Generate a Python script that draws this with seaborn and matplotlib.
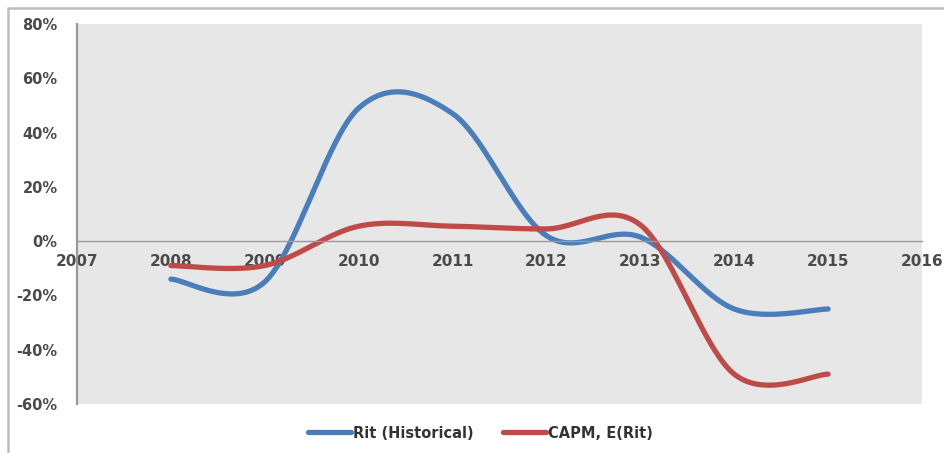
import numpy as np
import pandas as pd
import matplotlib
matplotlib.use("Agg")
import matplotlib.pyplot as plt
import seaborn as sns
from matplotlib.lines import Line2D
from matplotlib.ticker import PercentFormatter, FixedLocator

# Annual returns (%)
years = [2008, 2009, 2010, 2011, 2012, 2013, 2014, 2015]
rit_historical = [-14, -15, 49, 47, 2, 1.5, -25, -25]
capm_expected = [-9, -9, 5.5, 5.5, 4.5, 6, -49, -49]
series_names = ["Rit (Historical)", "CAPM, E(Rit)"]
x_ticks = list(range(2007, 2017))
y_ticks = [-60, -40, -20, 0, 20, 40, 60, 80]


def smooth_curve(xs, ys, n=40):
    """Cubic Bezier smoothing through every point (spreadsheet-style smoothed line)."""
    pts = np.column_stack([xs, ys]).astype(float)
    m = len(pts)
    out = []
    for i in range(m - 1):
        p0, p3 = pts[i], pts[i + 1]
        prev = pts[i - 1] if i > 0 else pts[i]
        nxt = pts[i + 2] if i + 2 < m else pts[i + 1]
        c1 = p0 + (p3 - prev) / 6.0
        c2 = p3 - (nxt - p0) / 6.0
        t = np.linspace(0, 1, n, endpoint=(i == m - 2))[:, None]
        seg = (1 - t) ** 3 * p0 + 3 * (1 - t) ** 2 * t * c1 + 3 * (1 - t) * t ** 2 * c2 + t ** 3 * p3
        out.append(seg)
    return np.vstack(out)


frames = []
for name, vals in zip(series_names, [rit_historical, capm_expected]):
    c = smooth_curve(years, vals)
    frames.append(pd.DataFrame({"year": c[:, 0], "ret": c[:, 1], "series": name}))
df = pd.concat(frames, ignore_index=True)

sns.set_theme(style="white")
plt.rcParams["font.family"] = ["DejaVu Sans"]
plt.rcParams["axes.unicode_minus"] = False

fig = plt.figure(figsize=(9.45, 4.53), dpi=100)
fig.patch.set_facecolor("white")
W, H = 945, 453
ax = fig.add_axes([77 / W, 1 - 404 / H, (922 - 77) / W, (404 - 24) / H])
ax.set_facecolor("#e7e7e7")

palette = {"Rit (Historical)": "#4a7ebb", "CAPM, E(Rit)": "#be4b48"}
sns.lineplot(data=df, x="year", y="ret", hue="series", palette=palette,
             sort=False, estimator=None, linewidth=3.8, ax=ax, legend=False)

ax.set_xlim(2007, 2016)
ax.set_ylim(-60, 80)
ax.xaxis.set_major_locator(FixedLocator(x_ticks))
ax.yaxis.set_major_locator(FixedLocator(y_ticks))
ax.yaxis.set_major_formatter(PercentFormatter(decimals=0))
ax.set_xlabel("")
ax.set_ylabel("")

for s in ["top", "right"]:
    ax.spines[s].set_visible(False)
ax.spines["bottom"].set_position(("data", 0))
ax.spines["bottom"].set_color("#9a9a9a")
ax.spines["bottom"].set_linewidth(1.0)
ax.spines["left"].set_color("#9a9a9a")
ax.spines["left"].set_linewidth(1.6)

ax.tick_params(axis="x", length=0, pad=9, labelsize=11, labelcolor="#4a4a4a")
ax.tick_params(axis="y", length=0, pad=14, labelsize=10.5, labelcolor="#4a4a4a")
for lab in ax.get_xticklabels() + ax.get_yticklabels():
    lab.set_fontweight("bold")

handles = [Line2D([], [], color=palette[n], linewidth=3.8) for n in series_names]
leg = fig.legend(handles, series_names, loc="center", bbox_to_anchor=(0.508, 1 - 433 / H),
                 ncol=2, frameon=False, fontsize=10.5, handlelength=3.0,
                 handletextpad=0.1, columnspacing=2.0)
for t in leg.get_texts():
    t.set_color("#333333")
    t.set_fontweight("bold")

# chart frame edges
fig.add_artist(Line2D([8 / W, 1], [1 - 8 / H, 1 - 8 / H], color="#bdbdbd", linewidth=1.8,
                      transform=fig.transFigure))
fig.add_artist(Line2D([8 / W, 8 / W], [0, 1 - 8 / H], color="#bdbdbd", linewidth=1.8,
                      transform=fig.transFigure))

fig.savefig("out.png", dpi=100, facecolor="white")
